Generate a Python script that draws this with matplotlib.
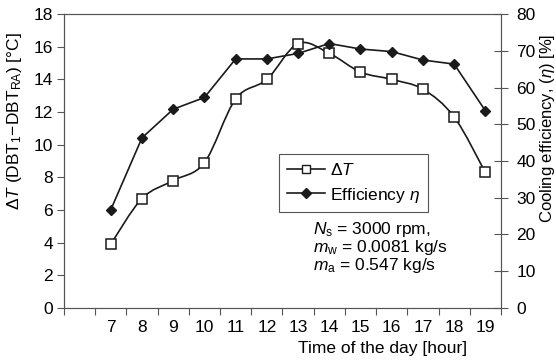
import numpy as np
import matplotlib
matplotlib.use('Agg')
import matplotlib.pyplot as plt
from matplotlib.path import Path
from matplotlib.patches import PathPatch
from matplotlib.lines import Line2D

plt.rcParams['font.family'] = ['Liberation Sans', 'DejaVu Sans']
plt.rcParams['mathtext.fontset'] = 'custom'
plt.rcParams['mathtext.rm'] = 'Liberation Sans'
plt.rcParams['mathtext.it'] = 'Liberation Sans:italic'

hours = [7, 8, 9, 10, 11, 12, 13, 14, 15, 16, 17, 18, 19]
delta_t = [3.9, 6.7, 7.8, 8.9, 12.8, 14.0, 16.2, 15.6, 14.45, 14.0, 13.4, 11.7, 8.3]
efficiency = [26.7, 46.3, 54.1, 57.3, 67.8, 67.8, 69.3, 72.0, 70.5, 69.8, 67.5, 66.4, 53.7]
tick_labels = [''] + [str(h) for h in hours]

col = '#1a1a1a'
fs = 12.5

fig = plt.figure(figsize=(5.56, 3.63), dpi=100)
ax1 = fig.add_axes([0.115, 0.152, 0.786, 0.809])
ax2 = ax1.twinx()

# smooth curve for delta T (catmull-rom -> bezier)
x = np.array(hours, float)
y = np.array(delta_t, float)
px = np.concatenate([[x[0]], x, [x[-1]]])
py = np.concatenate([[y[0]], y, [y[-1]]])
verts = [(x[0], y[0])]
codes = [Path.MOVETO]
for i in range(1, len(px) - 2):
    c1 = (px[i] + (px[i + 1] - px[i - 1]) / 6, py[i] + (py[i + 1] - py[i - 1]) / 6)
    c2 = (px[i + 1] - (px[i + 2] - px[i]) / 6, py[i + 1] - (py[i + 2] - py[i]) / 6)
    verts += [c1, c2, (px[i + 1], py[i + 1])]
    codes += [Path.CURVE4] * 3
ax1.add_patch(PathPatch(Path(verts, codes), fill=False, edgecolor=col, lw=1.2))
ax1.plot(hours, delta_t, ls='none', marker='s', ms=6.5, mfc='white', mec=col, mew=1.1)

ax2.plot(hours, efficiency, color=col, lw=1.2, marker='D', ms=5.5, mfc=col, mec=col)

ax1.set_xlim(5.5, 19.5)
ax1.set_ylim(0, 18)
ax2.set_ylim(0, 80)
ax1.set_yticks(range(0, 19, 2))
ax2.set_yticks(range(0, 81, 10))

ax1.set_xticks(np.arange(5.5, 20, 1))
ax1.set_xticklabels([])
ax1.set_xticks(np.arange(6, 20, 1), minor=True)
ax1.set_xticklabels(tick_labels, minor=True)
ax1.tick_params(axis='x', which='major', direction='out', length=5, width=0.8, color='#555555')
ax1.tick_params(axis='x', which='minor', length=0, pad=9, labelsize=fs)
ax1.tick_params(axis='y', direction='out', length=5, width=0.8, color='#555555', pad=3, labelsize=fs)
ax2.tick_params(axis='y', direction='inout', length=10, width=0.8, color='#555555', pad=6, labelsize=fs)

for ax in (ax1, ax2):
    for s in ax.spines.values():
        s.set_color('#555555')
        s.set_linewidth(0.8)

ax1.set_ylabel(r'$\Delta T$ (DBT$_1$$-$DBT$_{\rm RA}$) [°C]', fontsize=fs)
ax1.yaxis.set_label_coords(-0.092, 0.636)
ax2.set_ylabel(r'Cooling efficiency, ($\eta$) [%]', fontsize=12)
ax2.yaxis.set_label_coords(1.084, 0.612)
ax1.set_xlabel('Time of the day [hour]', fontsize=fs)
ax1.xaxis.set_label_coords(0.729, -0.112)

handles = [
    Line2D([], [], color=col, lw=1.2, marker='s', ms=6, mfc='white', mec=col),
    Line2D([], [], color=col, lw=1.2, marker='D', ms=5, mfc=col, mec=col),
]
leg = ax2.legend(handles, [r'$\Delta T$', r'Efficiency $\eta$'], loc='upper left',
                 bbox_to_anchor=(0.492, 0.524), borderaxespad=0, fancybox=False,
                 edgecolor='#555555', framealpha=1, fontsize=fs, handlelength=2.2,
                 handletextpad=0.3, borderpad=0.45, labelspacing=0.45)
leg.get_frame().set_linewidth(0.8)

ax2.text(0.57, 0.30, r'$N_{\rm s}$ = 3000 rpm,' '\n' r'$m_{\rm w}$ = 0.0081 kg/s' '\n'
         r'$m_{\rm a}$ = 0.547 kg/s', transform=ax2.transAxes, fontsize=fs,
         va='top', ha='left', linespacing=0.95)

fig.savefig('out.png', dpi=100)
